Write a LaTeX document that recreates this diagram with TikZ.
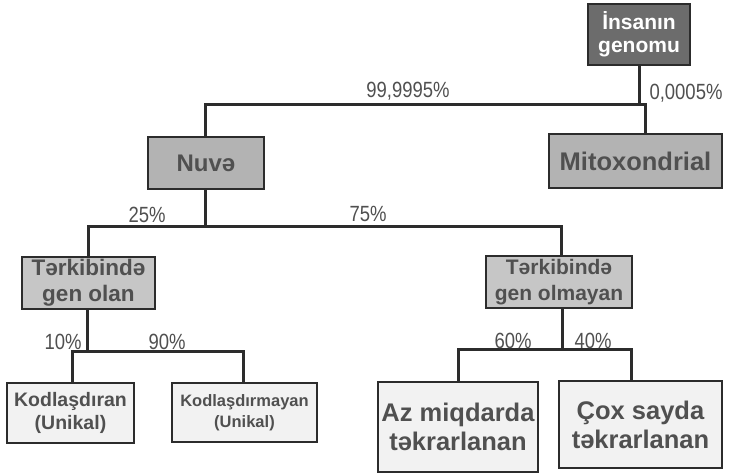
\documentclass[tikz,border=0pt]{standalone}
\usepackage{fontspec}
\setmainfont{Liberation Sans}
\newfontfamily\condfont{Liberation Sans}[FakeStretch=0.84]
\definecolor{darkbox}{HTML}{6C6C6C}
\definecolor{midbox}{HTML}{B3B3B3}
\definecolor{lightbox}{HTML}{C6C6C6}
\definecolor{palebox}{HTML}{F2F2F2}
\definecolor{txtgray}{HTML}{505050}
\definecolor{linec}{HTML}{2C2C2C}
\begin{document}
\begin{tikzpicture}[x=1pt,y=-1pt,
  box/.style={draw=linec, line width=1.6pt, inner sep=0pt, align=center, text=txtgray},
  conn/.style={draw=linec, line width=3pt, line join=miter},
  pct/.style={font=\condfont\fontsize{22}{22}\selectfont, text=txtgray, inner sep=0pt}]
\useasboundingbox (0,0) rectangle (729,473);

% boxes
\node[box, fill=darkbox, text=white, minimum width=102pt, minimum height=61pt,
  font=\bfseries\fontsize{21}{23}\selectfont] (genomu) at (639,34.5) {İnsanın\\genomu};
\node[box, fill=midbox, minimum width=116pt, minimum height=52pt,
  font=\bfseries\fontsize{24}{27}\selectfont] (nuve) at (206,163) {Nuvə};
\node[box, fill=midbox, minimum width=173pt, minimum height=54pt,
  font=\bfseries\fontsize{25.5}{27}\selectfont] (mito) at (635.5,161) {Mitoxondrial};
\node[box, fill=lightbox, minimum width=133pt, minimum height=52pt,
  font=\bfseries\fontsize{22.5}{26}\selectfont] (olan) at (88.5,283) {Tərkibində\\gen olan};
\node[box, fill=lightbox, minimum width=146pt, minimum height=52pt,
  font=\bfseries\fontsize{21}{26}\selectfont] (olmayan) at (559,282) {Tərkibində\\gen olmayan};
\node[box, fill=palebox, minimum width=127pt, minimum height=60pt,
  font=\bfseries\fontsize{19.5}{23}\selectfont] (kod) at (70.5,413) {Kodlaşdıran\\(Unikal)};
\node[box, fill=palebox, minimum width=145pt, minimum height=59pt,
  font=\bfseries\fontsize{16.5}{21}\selectfont] (kodm) at (244.5,412.5) {Kodlaşdırmayan\\(Unikal)};
\node[box, fill=palebox, minimum width=160pt, minimum height=90pt,
  font=\bfseries\fontsize{25.5}{29}\selectfont] (az) at (458,427) {Az miqdarda\\təkrarlanan};
\node[box, fill=palebox, minimum width=163pt, minimum height=87pt,
  font=\bfseries\fontsize{25.5}{29}\selectfont] (cox) at (640.5,424.5) {Çox sayda\\təkrarlanan};

% junctions
\coordinate (j1) at (639,105);
\coordinate (j1l) at (205,105);
\coordinate (j1r) at (645,105);
\coordinate (j2) at (205,227);
\coordinate (j2l) at (88,227);
\coordinate (j2r) at (561,227);
\coordinate (j3) at (87,352);
\coordinate (j3l) at (72,352);
\coordinate (j3r) at (243,352);
\coordinate (j4) at (562,350);
\coordinate (j4l) at (458,350);
\coordinate (j4r) at (631,350);

% connectors
\draw[conn] (genomu.south -| j1) -- (j1);
\draw[conn] (nuve.north -| j1l) -- (j1l) -- (j1r) -- (mito.north -| j1r);
\draw[conn] (nuve.south -| j2) -- (j2);
\draw[conn] (olan.north -| j2l) -- (j2l) -- (j2r) -- (olmayan.north -| j2r);
\draw[conn] (olan.south -| j3) -- (j3);
\draw[conn] (kod.north -| j3l) -- (j3l) -- (j3r) -- (kodm.north -| j3r);
\draw[conn] (olmayan.south -| j4) -- (j4);
\draw[conn] (az.north -| j4l) -- (j4l) -- (j4r) -- (cox.north -| j4r);

% labels
\node[pct] (p1) at (408,91) {99,9995\%};
\node[pct] (p2) at (686,93) {0,0005\%};
\node[pct] (p3) at (147,215) {25\%};
\node[pct] (p4) at (368,214) {75\%};
\node[pct] (p5) at (63,342) {10\%};
\node[pct] (p6) at (167,342) {90\%};
\node[pct] (p7) at (513,341) {60\%};
\node[pct] (p8) at (593,341) {40\%};
\end{tikzpicture}
\end{document}
